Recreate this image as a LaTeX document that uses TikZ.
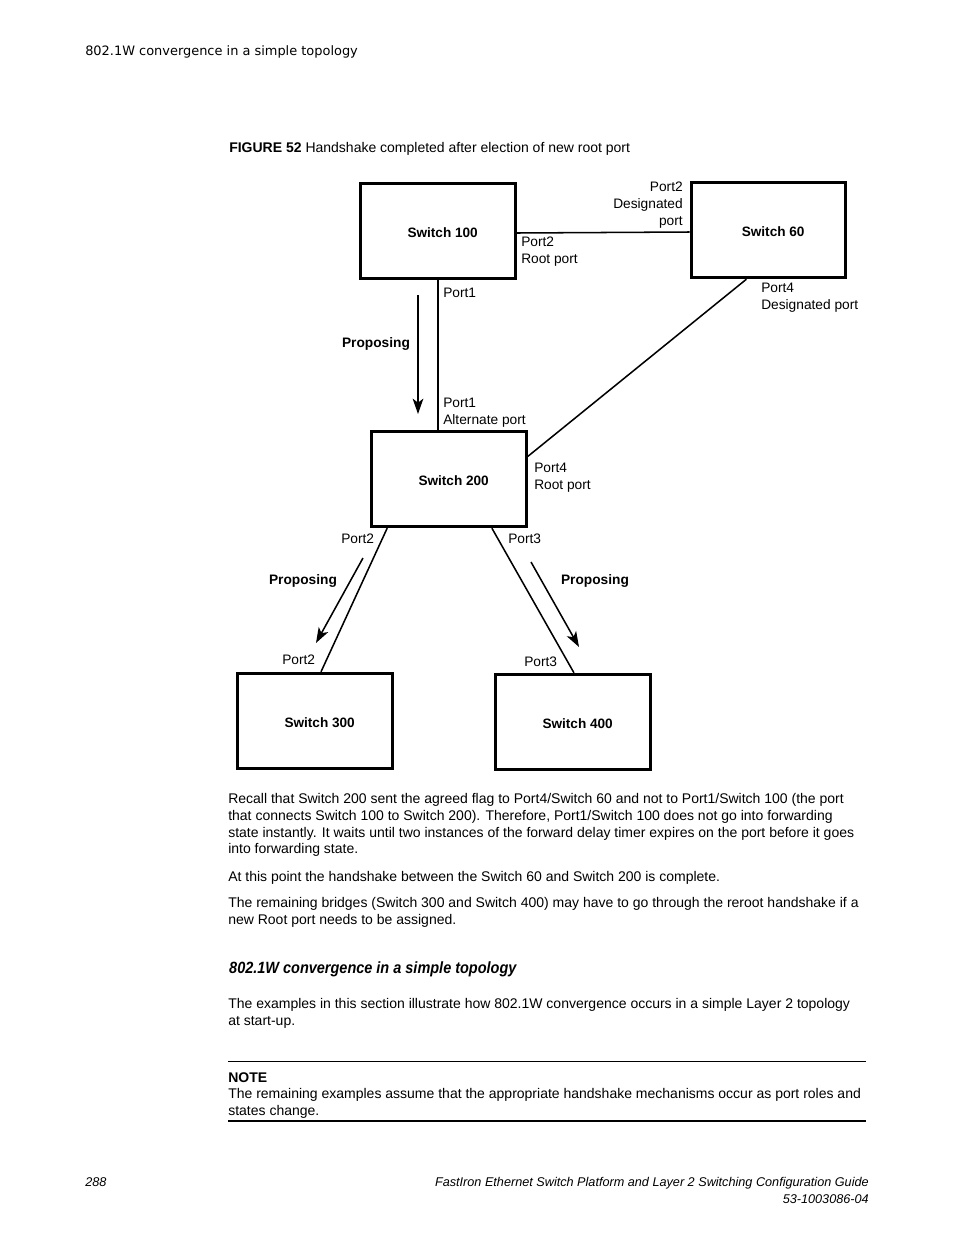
\documentclass[tikz,border=0pt]{standalone}
\usepackage{fontspec}
\setmainfont{Liberation Sans}
\newfontfamily\hdrfont{DejaVu Sans}
\usetikzlibrary{arrows.meta,calc}
\begin{document}
\begin{tikzpicture}[x=0.75pt,y=-0.75pt,
  switchbox/.style={draw,line width=2.3pt,minimum width=116pt,minimum height=71.5pt,inner sep=0pt},
  boxtext/.style={inner sep=0pt,xshift=3.5pt,yshift=-1.2pt,font=\fontsize{10.2}{12}\selectfont\bfseries},
  lbl/.style={inner sep=0pt,font=\fontsize{10.3}{12}\selectfont},
  prop/.style={inner sep=0pt,anchor=base,font=\fontsize{10.3}{12}\selectfont\bfseries},
  body/.style={inner sep=0pt,anchor=base west,font=\fontsize{10.5}{12.75}\selectfont},
  link/.style={line width=1.15pt},
  msg/.style={line width=1.15pt,-{Stealth[length=11.5pt,width=8pt,inset=3pt]}},
  foot/.style={inner sep=0pt,font=\fontsize{9.5}{11}\selectfont\itshape}
]
\useasboundingbox (0,0) rectangle (954,1235);

% header
\node[inner sep=0pt,anchor=base west,font=\hdrfont\fontsize{9.7}{11}\selectfont] (hdr) at (85,55) {802.1W convergence in a simple topology};
\node[body] (cap) at (229,152) {\textbf{FIGURE 52} Handshake completed after election of new root port};

% switches
\node[switchbox,label={[boxtext]center:Switch 100}] (s100) at (438,231) {};
\node[switchbox,label={[boxtext]center:Switch 60}] (s60) at (768.5,230) {};
\node[switchbox,label={[boxtext]center:Switch 200}] (s200) at (449,479) {};
\node[switchbox,label={[boxtext]center:Switch 300}] (s300) at (315,721) {};
\node[switchbox,label={[boxtext]center:Switch 400}] (s400) at (573,722) {};

% links
\draw[link] ([yshift=-1.5pt]s100.east) -- ([yshift=-1.5pt]s60.west);
\draw[link] (s100.south) -- (s100.south |- s200.north);
\draw[link] ($(s60.south west)!0.36!(s60.south east)$) -- ($(s200.north east)!0.27!(s200.south east)$);
\draw[link] ($(s200.south west)!0.108!(s200.south east)$) -- ($(s300.north west)!0.538!(s300.north east)$);
\draw[link] ($(s200.south west)!0.772!(s200.south east)$) -- ($(s400.north west)!0.506!(s400.north east)$);

% proposing arrows
\coordinate (a1s) at (418,295);
\coordinate (a1e) at (418,414);
\coordinate (a2s) at (363,558);
\coordinate (a2e) at (316,643);
\coordinate (a3s) at (531,562);
\coordinate (a3e) at (579,647);
\draw[msg] (a1s) -- (a1e);
\draw[msg] (a2s) -- (a2e);
\draw[msg] (a3s) -- (a3e);

% port labels
\node[lbl,anchor=base east] (l1) at (683,191.5) {Port2};
\node[lbl,anchor=base east] (l2) at (683,208.5) {Designated};
\node[lbl,anchor=base east] (l3) at (683,225.5) {port};
\node[lbl,anchor=base west] (l4) at (521,246.5) {Port2};
\node[lbl,anchor=base west] (l5) at (521,263.5) {Root port};
\node[lbl,anchor=base west] (l6) at (443,297) {Port1};
\node[lbl,anchor=base west] (l7) at (761,292.5) {Port4};
\node[lbl,anchor=base west] (l8) at (761,309.5) {Designated port};
\node[prop] (p1) at (376,347.5) {Proposing};
\node[lbl,anchor=base west] (l9) at (443,407.5) {Port1};
\node[lbl,anchor=base west] (l10) at (443,424.5) {Alternate port};
\node[lbl,anchor=base west] (l11) at (534,472.5) {Port4};
\node[lbl,anchor=base west] (l12) at (534,489.5) {Root port};
\node[lbl,anchor=base west] (l13) at (341,543.5) {Port2};
\node[lbl,anchor=base west] (l14) at (508,543.5) {Port3};
\node[prop] (p2) at (303,584.5) {Proposing};
\node[prop] (p3) at (595,584.5) {Proposing};
\node[lbl,anchor=base west] (l15) at (282,664.5) {Port2};
\node[lbl,anchor=base west] (l16) at (524,666.5) {Port3};

% body text
\node[body] (t1) at (228,803) {Recall that Switch 200 sent the agreed flag to Port4/Switch 60 and not to Port1/Switch 100 (the port};
\node[body] (t2) at (228,820) {that connects Switch 100 to Switch 200). Therefore, Port1/Switch 100 does not go into forwarding};
\node[body] (t3) at (228,837) {state instantly. It waits until two instances of the forward delay timer expires on the port before it goes};
\node[body] (t4) at (228,853.5) {into forwarding state.};
\node[body] (t5) at (228,881) {At this point the handshake between the Switch 60 and Switch 200 is complete.};
\node[body] (t6) at (228,907) {The remaining bridges (Switch 300 and Switch 400) may have to go through the reroot handshake if a};
\node[body] (t7) at (228,924) {new Root port needs to be assigned.};
\node[inner sep=0pt,anchor=base west,xscale=0.89,transform shape,font=\fontsize{12.2}{14}\selectfont\bfseries\itshape] (h2) at (229,973) {802.1W convergence in a simple topology};
\node[body] (t8) at (228,1008) {The examples in this section illustrate how 802.1W convergence occurs in a simple Layer 2 topology};
\node[body] (t9) at (228,1025) {at start-up.};
\coordinate (r1a) at (228,1061.5);
\coordinate (r1b) at (866,1061.5);
\draw[line width=0.8pt] (r1a) -- (r1b);
\node[body,font=\fontsize{10.5}{12.75}\selectfont\bfseries] (note) at (228,1082) {NOTE};
\node[body] (t10) at (228,1098.5) {The remaining examples assume that the appropriate handshake mechanisms occur as port roles and};
\node[body] (t11) at (228,1115) {states change.};
\coordinate (r2a) at (228,1121);
\coordinate (r2b) at (866,1121);
\draw[line width=1.9pt] (r2a) -- (r2b);

% footer
\node[foot,anchor=base west] (f1) at (85,1186) {288};
\node[foot,anchor=base east] (f2) at (869,1186) {FastIron Ethernet Switch Platform and Layer 2 Switching Configuration Guide};
\node[foot,anchor=base east] (f3) at (869,1203) {53-1003086-04};
\end{tikzpicture}
\end{document}
